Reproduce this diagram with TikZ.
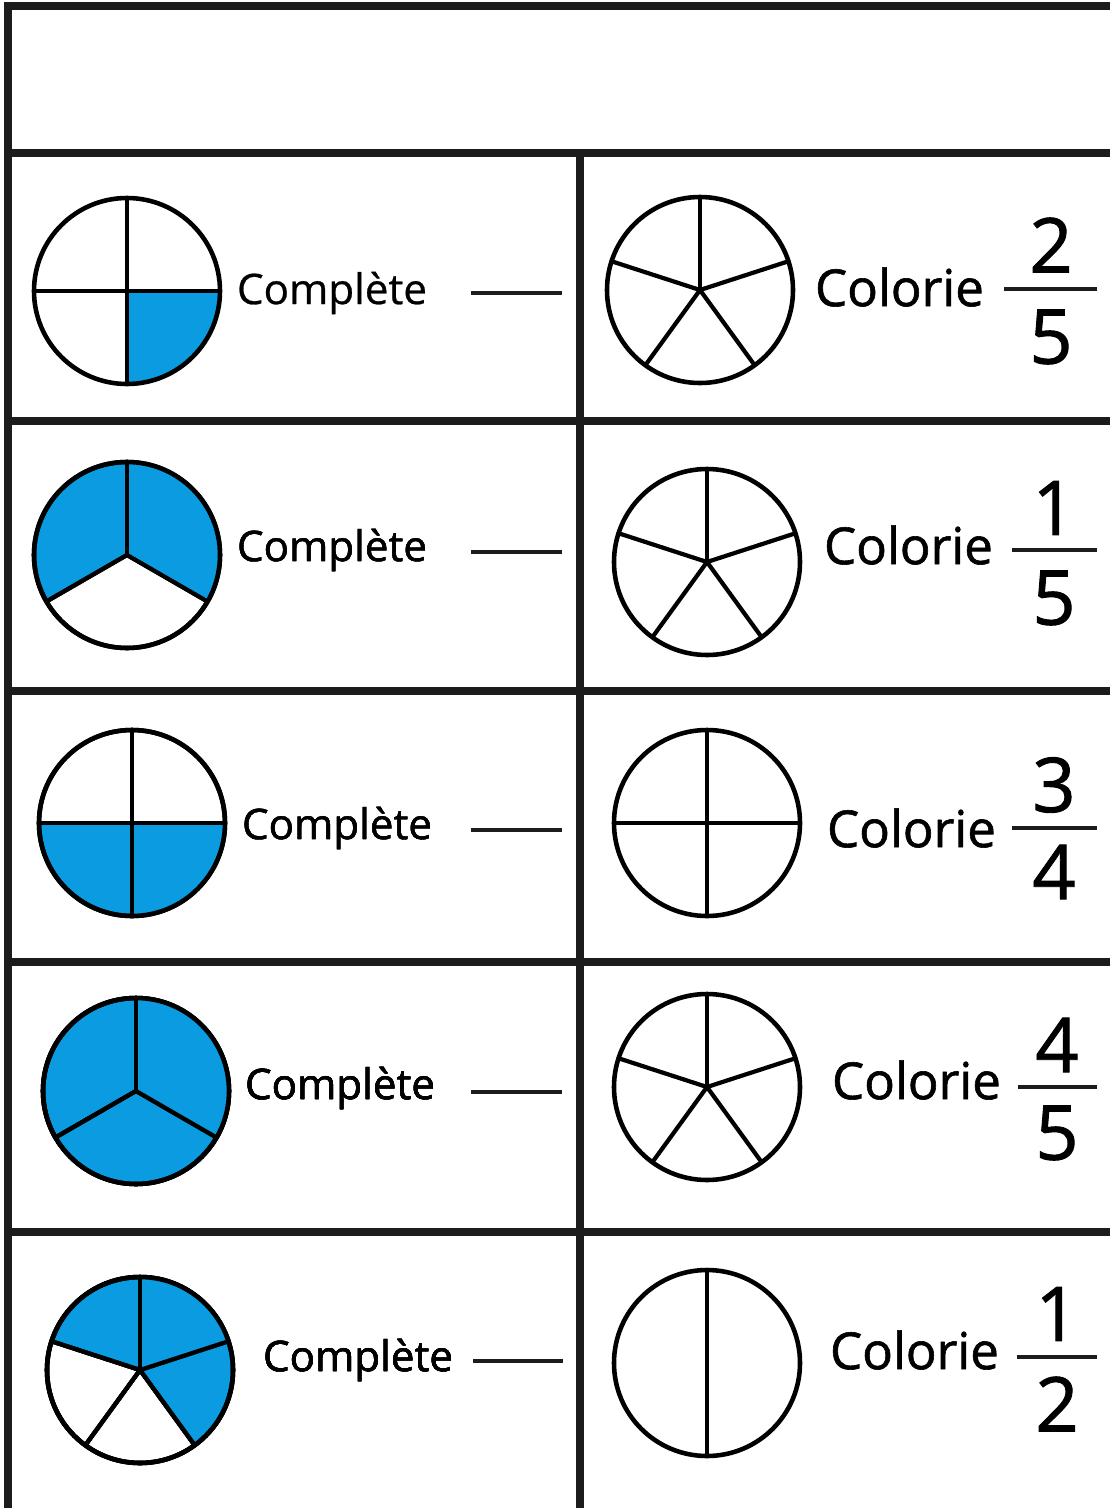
\documentclass[tikz,border=0pt]{standalone}
\usepackage{fontspec}
\setmainfont{Open Sans}
\newfontfamily\semifont[FakeBold=0.6]{Open Sans}
\newfontfamily\heavyfont[FakeBold=1.2]{Open Sans}
\usetikzlibrary{positioning}
\definecolor{cblue}{HTML}{0A9BE0}
\definecolor{cink}{HTML}{1C1C1C}
\tikzset{
  every picture/.style={line width=2.3pt},
  grid/.style={draw=cink, line width=4.2pt},
  rim/.style={draw=black, line width=2.6pt},
  spoke/.style={draw=black, line width=2.4pt},
  blank/.style={draw=cink, line width=2.6pt},
  word/.style={font=\semifont\fontsize{24}{28}\selectfont, anchor=west, inner sep=0pt},
  task/.style={font=\heavyfont\fontsize{29}{34}\selectfont, anchor=west, inner sep=0pt},
  digit/.style={font=\heavyfont\fontsize{43}{48}\selectfont, inner sep=0pt},
}

\begin{document}
\begin{tikzpicture}[x=0.02cm, y=0.02cm]
  \newcommand{\slice}[3]{\fill[cblue] (#1) -- ++({90+#3*360/#2}:93) arc[start angle={90+#3*360/#2}, delta angle={360/#2}, radius=93] -- cycle;}
  \newcommand{\pie}[2]{%
    \foreach \k in {1,...,#2} \draw[spoke] (#1) -- ++({90+\k*360/#2}:93);
    \draw[rim] (#1) circle[radius=93];}
  \useasboundingbox (0,0) rectangle (1110,-1508);
  \fill[white] (0,0) rectangle (1110,-1508);

  % frame
  \draw[grid, line join=miter] (8,-1508) -- (8,-6) -- (1110,-6);
  \foreach \y in {153,421,691,962,1232} \draw[grid] (8,-\y) -- (1110,-\y);
  \draw[grid] (580,-153) -- (580,-1508);

  % row 1
  \coordinate (l1) at (127,-291);
  \slice{l1}{4}{2}
  \pie{l1}{4}
  \node[word] (c1) at (235,-293) {Complète};
  \draw[blank] (471,-293) -- (562,-293);
  \coordinate (r1) at (700,-290);
  \pie{r1}{5}
  \node[task] (t1) at (813,-287) {Colorie};
  \node[digit] (n1) at (1051,-245) {2};
  \node[digit] (d1) at (1051,-337) {5};
  \draw[blank] (1004,-289) -- (1097,-289);

  % row 2
  \coordinate (l2) at (127,-555);
  \foreach \k in {0,2} \slice{l2}{3}{\k}
  \pie{l2}{3}
  \node[word] (c2) at (235,-550) {Complète};
  \draw[blank] (471,-552) -- (562,-552);
  \coordinate (r2) at (707,-562);
  \pie{r2}{5}
  \node[task] (t2) at (822,-545) {Colorie};
  \node[digit] (n2) at (1054,-508) {1};
  \node[digit] (d2) at (1054,-598) {5};
  \draw[blank] (1012,-550) -- (1097,-550);

  % row 3
  \coordinate (l3) at (132,-823);
  \foreach \k in {1,2} \slice{l3}{4}{\k}
  \pie{l3}{4}
  \node[word] (c3) at (240,-828) {Complète};
  \draw[blank] (471,-830) -- (562,-830);
  \coordinate (r3) at (707,-823);
  \pie{r3}{4}
  \node[task] (t3) at (825,-828) {Colorie};
  \node[digit] (n3) at (1054,-785) {3};
  \node[digit] (d3) at (1054,-872) {4};
  \draw[blank] (1012,-828) -- (1097,-828);

  % row 4
  \coordinate (l4) at (136,-1091);
  \foreach \k in {0,1,2} \slice{l4}{3}{\k}
  \pie{l4}{3}
  \node[word] (c4) at (243,-1088) {Complète};
  \draw[blank] (471,-1092) -- (562,-1092);
  \coordinate (r4) at (707,-1087);
  \pie{r4}{5}
  \node[task] (t4) at (830,-1080) {Colorie};
  \node[digit] (n4) at (1057,-1045) {4};
  \node[digit] (d4) at (1057,-1133) {5};
  \draw[blank] (1018,-1087) -- (1097,-1087);

  % row 5
  \coordinate (l5) at (140,-1370);
  \foreach \k in {0,3,4} \slice{l5}{5}{\k}
  \pie{l5}{5}
  \node[word] (c5) at (261,-1360) {Complète};
  \draw[blank] (473,-1361) -- (563,-1361);
  \coordinate (r5) at (707,-1363);
  \pie{r5}{2}
  \node[task] (t5) at (828,-1350) {Colorie};
  \node[digit] (n5) at (1057,-1314) {1};
  \node[digit] (d5) at (1057,-1404) {2};
  \draw[blank] (1017,-1357) -- (1097,-1357);
\end{tikzpicture}
\end{document}
